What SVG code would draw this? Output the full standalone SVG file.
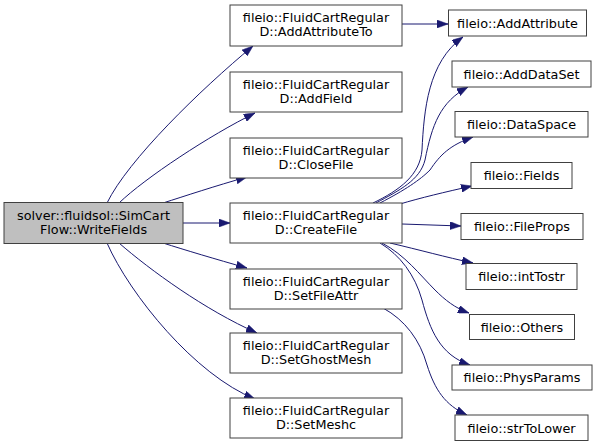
<svg xmlns="http://www.w3.org/2000/svg" width="599" height="447" viewBox="0 0 599 447">
<style>
.box{fill:#ffffff;stroke:#404040;stroke-width:1}
.root{fill:#bfbfbf;stroke:#404040;stroke-width:1}
text{font-family:"DejaVu Sans","Liberation Sans",sans-serif;font-size:12.8px;fill:#000000;text-anchor:middle}
.edge{fill:none;stroke:#191970;stroke-width:1;marker-end:url(#arr)}
</style>
<defs>
<marker id="arr" markerUnits="userSpaceOnUse" markerWidth="11" markerHeight="8" refX="11" refY="4" orient="auto">
<path d="M0,0 L11,4 L0,8 z" fill="#191970" stroke="#191970" stroke-width="0.5"/>
</marker>
</defs>
<rect width="599" height="447" fill="#ffffff"/>
<g id="connectors">
<path class="edge" d="M107,203 C128,160 200,90 253,46"/>
<path class="edge" d="M119,203 C145,178 210,135 255,113"/>
<path class="edge" d="M163,203 C185,196 215,186 247,177"/>
<path class="edge" d="M183,223 L230,223"/>
<path class="edge" d="M163,243 C185,250 215,259 247,268"/>
<path class="edge" d="M119,243 C150,270 205,310 257,333"/>
<path class="edge" d="M107,243 C130,295 195,375 255,399"/>
<path class="edge" d="M402,24 L448,24"/>
<path class="edge" d="M373,203 C400,190 420,175 422,150 C424,110 428,62 463,37"/>
<path class="edge" d="M376,203 C400,190 420,180 425,160 C432,125 440,102 468,87"/>
<path class="edge" d="M380,203 C405,190 420,180 430,170 C440,155 450,145 473,137"/>
<path class="edge" d="M400,204 C420,198 445,192 472,186"/>
<path class="edge" d="M402,224 L461,226"/>
<path class="edge" d="M390,243 C420,250 445,257 473,263"/>
<path class="edge" d="M382,243 C405,255 420,275 435,290 C445,300 455,308 469,313"/>
<path class="edge" d="M380,243 C400,255 415,275 422,300 C430,330 440,355 470,365"/>
<path class="edge" d="M383,308 C405,320 420,340 427,365 C435,390 445,405 467,415"/>
</g>
<g id="node_root"><rect class="root" x="4" y="202.5" width="179" height="41"/><text x="93.5" y="219.5">solver::fluidsol::SimCart</text><text x="93.5" y="233.5">Flow::WriteFields</text></g>
<g id="node_addattributeto"><rect class="box" x="230" y="5" width="172" height="41"/><text x="316" y="22">fileio::FluidCartRegular</text><text x="316" y="36">D::AddAttributeTo</text></g>
<g id="node_addfield"><rect class="box" x="230" y="72" width="172" height="40"/><text x="316" y="89">fileio::FluidCartRegular</text><text x="316" y="103">D::AddField</text></g>
<g id="node_closefile"><rect class="box" x="230" y="138" width="172" height="40"/><text x="316" y="155">fileio::FluidCartRegular</text><text x="316" y="169">D::CloseFile</text></g>
<g id="node_createfile"><rect class="box" x="230" y="203" width="172" height="40"/><text x="316" y="220">fileio::FluidCartRegular</text><text x="316" y="234">D::CreateFile</text></g>
<g id="node_setfileattr"><rect class="box" x="230" y="269" width="172" height="40"/><text x="316" y="286">fileio::FluidCartRegular</text><text x="316" y="300">D::SetFileAttr</text></g>
<g id="node_setghostmesh"><rect class="box" x="230" y="333" width="172" height="40"/><text x="316" y="350">fileio::FluidCartRegular</text><text x="316" y="364">D::SetGhostMesh</text></g>
<g id="node_setmeshc"><rect class="box" x="230" y="398" width="172" height="40"/><text x="316" y="415">fileio::FluidCartRegular</text><text x="316" y="429">D::SetMeshc</text></g>
<g id="node_addattribute"><rect class="box" x="448.5" y="10" width="138" height="26"/><text x="517.5" y="27.5">fileio::AddAttribute</text></g>
<g id="node_adddataset"><rect class="box" x="452" y="61" width="139" height="26"/><text x="521.5" y="78.5">fileio::AddDataSet</text></g>
<g id="node_dataspace"><rect class="box" x="455" y="111.5" width="133" height="25.5"/><text x="521.5" y="128.5">fileio::DataSpace</text></g>
<g id="node_fields"><rect class="box" x="471" y="162.5" width="101" height="26"/><text x="521.5" y="180">fileio::Fields</text></g>
<g id="node_fileprops"><rect class="box" x="461" y="213.5" width="122" height="26"/><text x="522" y="231">fileio::FileProps</text></g>
<g id="node_inttostr"><rect class="box" x="466" y="263.5" width="111" height="26"/><text x="521.5" y="281">fileio::intTostr</text></g>
<g id="node_others"><rect class="box" x="469.5" y="314.5" width="105" height="25"/><text x="522" y="331.5">fileio::Others</text></g>
<g id="node_physparams"><rect class="box" x="452" y="365" width="140" height="25"/><text x="522" y="382">fileio::PhysParams</text></g>
<g id="node_strtolower"><rect class="box" x="455" y="415" width="133" height="25.5"/><text x="521.5" y="432.5">fileio::strToLower</text></g>
</svg>
